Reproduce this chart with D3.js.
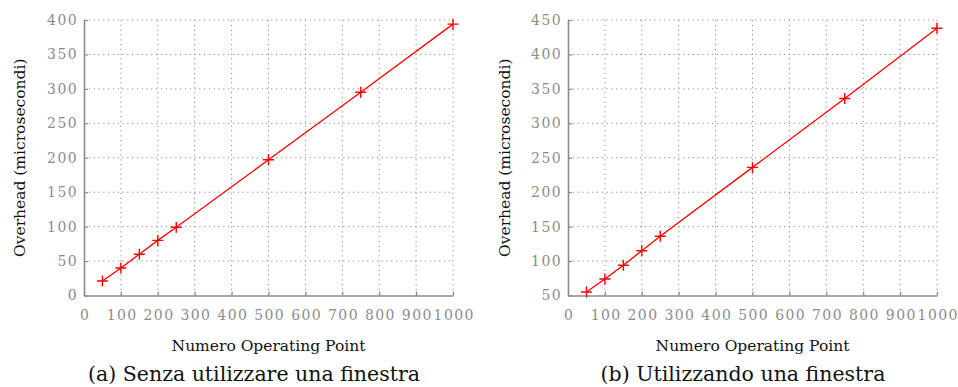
<!DOCTYPE html>
<html>
<head>
<meta charset="utf-8">
<script src="https://cdn.jsdelivr.net/npm/d3@7"></script>
<style>
  body { margin: 0; background: #fff; }
  svg text { font-family: "DejaVu Serif", serif; }
</style>
</head>
<body>
<svg id="chart" width="958" height="387"></svg>
<script>
const operatingPoints = [50, 100, 150, 200, 250, 500, 750, 1000];
const overheadNoWindow = [21, 40, 60, 80, 99, 197, 295, 394];
const overheadWindow = [55, 74, 94, 115, 136, 236, 336, 438];
const xTicks = [0, 100, 200, 300, 400, 500, 600, 700, 800, 900, 1000];
const yTicksA = [0, 50, 100, 150, 200, 250, 300, 350, 400];
const yTicksB = [50, 100, 150, 200, 250, 300, 350, 400, 450];
const xTitle = "Numero Operating Point";
const yTitle = "Overhead (microsecondi)";
const captions = ["(a) Senza utilizzare una finestra", "(b) Utilizzando una finestra"];

const svg = d3.select("#chart");
const gray = "#8c8c8c";

function drawPanel(opts){
  const { left, right, top, bottom, values, yTicks, caption, captionX, titleX } = opts;

  const x = d3.scaleLinear().domain([0, 1000]).range([left, right]);
  const y = d3.scaleLinear().domain(d3.extent(yTicks)).range([bottom, top]);

  const g = svg.append("g");

  // dotted grid
  g.append("g")
    .selectAll("line")
    .data(xTicks.slice(1))
    .enter().append("line")
      .attr("x1", d => x(d)).attr("x2", d => x(d))
      .attr("y1", top).attr("y2", bottom)
      .attr("stroke", gray).attr("stroke-width", 1)
      .attr("stroke-dasharray", "1.2,3.6");

  g.append("g")
    .selectAll("line")
    .data(yTicks.slice(1))
    .enter().append("line")
      .attr("x1", left).attr("x2", right)
      .attr("y1", d => y(d)).attr("y2", d => y(d))
      .attr("stroke", gray).attr("stroke-width", 1)
      .attr("stroke-dasharray", "1.2,3.6");

  // axes with inward ticks
  const axisB = d3.axisBottom(x).tickValues(xTicks).tickFormat(d3.format("d"))
    .tickSizeInner(-4).tickSizeOuter(0).tickPadding(15);
  const axisL = d3.axisLeft(y).tickValues(yTicks).tickFormat(d3.format("d"))
    .tickSizeInner(-4).tickSizeOuter(0).tickPadding(6);

  const gx = g.append("g").attr("transform", `translate(0,${bottom})`).call(axisB);
  const gy = g.append("g").attr("transform", `translate(${left},0)`).call(axisL);

  [gx, gy].forEach(a => {
    a.selectAll(".domain").attr("stroke", gray).attr("stroke-width", 1.6);
    a.selectAll(".tick line").attr("stroke", gray).attr("stroke-width", 1.2);
    a.selectAll(".tick text")
      .attr("fill", gray)
      .style("font-family", "'DejaVu Serif', serif")
      .style("font-size", "14px")
      .style("letter-spacing", "1.4px");
  });
  gx.selectAll(".tick text").attr("dx", "0.7px");

  // series line
  const pts = operatingPoints.map((p, i) => ({ x: p, y: values[i] }));
  const line = d3.line().x(d => x(d.x)).y(d => y(d.y));

  g.append("path")
    .datum(pts)
    .attr("d", line)
    .attr("fill", "none")
    .attr("stroke", "#ff0000")
    .attr("stroke-width", 1.3);

  // plus markers
  const s = 5.5;
  g.append("g")
    .selectAll("path")
    .data(pts)
    .enter().append("path")
      .attr("d", d => `M${x(d.x) - s},${y(d.y)}h${2 * s}M${x(d.x)},${y(d.y) - s}v${2 * s}`)
      .attr("stroke", "#ff0000")
      .attr("stroke-width", 1.4)
      .attr("fill", "none");

  // titles
  g.append("text")
    .attr("x", (left + right) / 2)
    .attr("y", 351)
    .attr("text-anchor", "middle")
    .style("font-size", "15.5px")
    .attr("fill", "#111")
    .text(xTitle);

  g.append("text")
    .attr("transform", `translate(${titleX},${(top + bottom) / 2}) rotate(-90)`)
    .attr("text-anchor", "middle")
    .style("font-size", "15.5px")
    .attr("fill", "#111")
    .text(yTitle);

  g.append("text")
    .attr("x", captionX)
    .attr("y", 381)
    .attr("text-anchor", "middle")
    .style("font-size", "20.5px")
    .attr("fill", "#111")
    .text(caption);
}

drawPanel({ left: 84, right: 453, top: 20, bottom: 295.5, values: overheadNoWindow, yTicks: yTicksA, caption: captions[0], captionX: 254, titleX: 25 });
drawPanel({ left: 568, right: 937, top: 20, bottom: 295.5, values: overheadWindow, yTicks: yTicksB, caption: captions[1], captionX: 743, titleX: 510 });
</script>
</body>
</html>
